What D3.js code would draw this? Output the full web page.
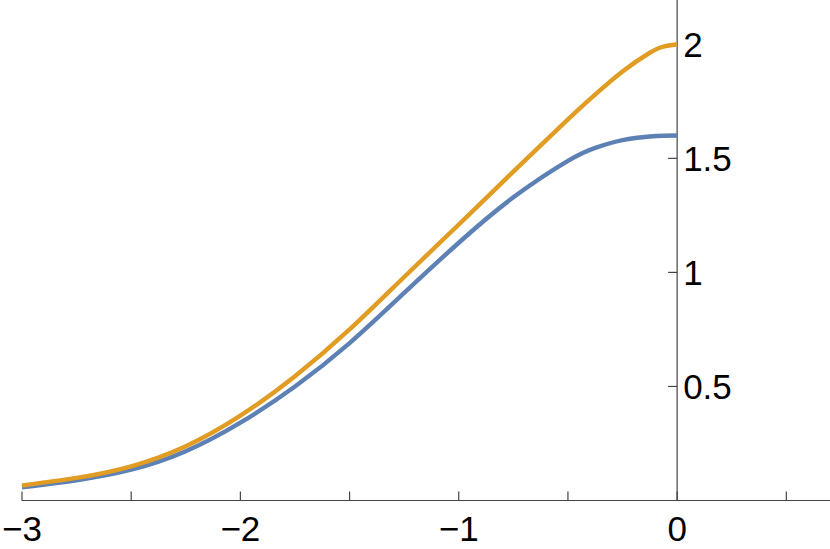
<!DOCTYPE html>
<html>
<head>
<meta charset="utf-8">
<script src="https://cdn.jsdelivr.net/npm/d3@7"></script>
<style>
  html, body { margin: 0; padding: 0; background: #fff; }
  svg text { font-family: "Liberation Sans", Arial, sans-serif; fill: #000; }
</style>
</head>
<body>
<div id="chart"></div>
<script>
// values
const xs = [-3, -2.75, -2.5, -2.25, -2, -1.75, -1.5, -1.25, -1, -0.75, -0.5, -0.375, -0.25, -0.125, -0.0625, 0];
const orangeVals = [0.066, 0.099, 0.150, 0.238, 0.372, 0.545, 0.75, 0.98, 1.21, 1.442, 1.671, 1.780, 1.881, 1.963, 1.990, 2.0];
const blueVals = [0.058, 0.089, 0.135, 0.216, 0.341, 0.50, 0.69, 0.91, 1.13, 1.329, 1.489, 1.546, 1.580, 1.596, 1.599, 1.6];
const xMajor = [-3, -2, -1, 0];
const xMinor = [-2.5, -1.5, -0.5, 0.5];
const yTicks = [0.5, 1, 1.5, 2];

const width = 830, height = 549;

const svg = d3.select("#chart").append("svg")
    .attr("width", width)
    .attr("height", height);

const x = d3.scaleLinear().domain([-3, 0.7]).range([22, 830]);
const y = d3.scaleLinear().domain([0, 2]).range([500.5, 44.3]);

const axisColor = "#444";

// x axis
svg.append("line")
    .attr("x1", x(-3)).attr("x2", width)
    .attr("y1", y(0)).attr("y2", y(0))
    .style("stroke", axisColor).style("stroke-width", 1.2);

svg.selectAll(".xtick")
    .data(xMajor.concat(xMinor))
    .enter().append("line")
    .attr("class", "xtick")
    .attr("x1", d => x(d)).attr("x2", d => x(d))
    .attr("y1", y(0)).attr("y2", y(0) - 9)
    .style("stroke", axisColor).style("stroke-width", 1.2);

svg.selectAll(".xlabel")
    .data(xMajor)
    .enter().append("text")
    .attr("class", "xlabel")
    .attr("x", d => x(d))
    .attr("y", y(0) + 40)
    .attr("text-anchor", "middle")
    .style("font-size", "35px")
    .text(d => d < 0 ? "\u2212" + Math.abs(d) : d);

// y axis at x = 0
svg.append("line")
    .attr("x1", x(0)).attr("x2", x(0))
    .attr("y1", 0).attr("y2", y(0))
    .style("stroke", axisColor).style("stroke-width", 1.2);

svg.selectAll(".ytick")
    .data(yTicks)
    .enter().append("line")
    .attr("class", "ytick")
    .attr("x1", x(0) - 9).attr("x2", x(0))
    .attr("y1", d => y(d)).attr("y2", d => y(d))
    .style("stroke", axisColor).style("stroke-width", 1.2);

svg.selectAll(".ylabel")
    .data(yTicks)
    .enter().append("text")
    .attr("class", "ylabel")
    .attr("x", x(0) + 6)
    .attr("y", d => y(d))
    .attr("dy", "0.36em")
    .attr("text-anchor", "start")
    .style("font-size", "35px")
    .text(d => d);

// curves
const line = d3.line()
    .x(d => x(d[0]))
    .y(d => y(d[1]))
    .curve(d3.curveNatural);

const series = [
    { values: blueVals, color: "#5E81B5" },
    { values: orangeVals, color: "#E19C24" }
];

series.forEach(s => {
    svg.append("path")
        .datum(xs.map((v, i) => [v, s.values[i]]))
        .attr("d", line)
        .style("fill", "none")
        .style("stroke", s.color)
        .style("stroke-width", 4.4);
});
</script>
</body>
</html>
